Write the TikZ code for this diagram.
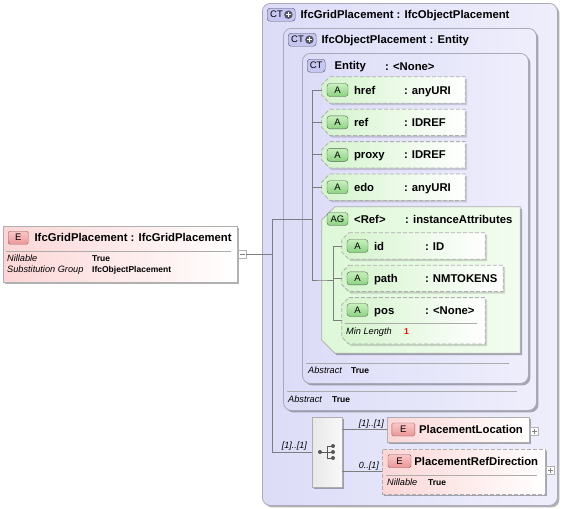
\documentclass[tikz,border=0pt]{standalone}
\usepackage{fontspec}
\setsansfont{Liberation Sans}
\usepackage{tikz}
\usetikzlibrary{positioning, shadows}
\usepackage{xcolor}

\definecolor{ctfill}{RGB}{220,220,248}
\definecolor{ctfillb}{RGB}{238,238,252}
\definecolor{ctline}{RGB}{170,170,185}
\definecolor{ctbadgefill}{RGB}{198,198,242}
\definecolor{badgeline}{RGB}{85,85,100}
\definecolor{attrfill}{RGB}{212,244,204}
\definecolor{agfill}{RGB}{222,248,216}
\definecolor{abadgetop}{RGB}{200,240,190}
\definecolor{abadgebot}{RGB}{140,210,130}
\definecolor{abadgeline}{RGB}{80,105,80}
\definecolor{elfill}{RGB}{252,214,214}
\definecolor{ebadgetop}{RGB}{250,200,200}
\definecolor{ebadgebot}{RGB}{236,150,150}
\definecolor{ebadgeline}{RGB}{150,90,90}
\definecolor{boxline}{RGB}{175,175,175}
\definecolor{treeline}{RGB}{125,125,125}

% outline of a box with its two left corners cut off
\newcommand{\notchbox}[2]{([xshift=#2]#1.north west) -- (#1.north east) -- (#1.south east)
  -- ([xshift=#2]#1.south west) -- ([yshift=#2]#1.south west) -- ([yshift=-#2]#1.north west) -- cycle}

\tikzset{
  dropsh/.style={drop shadow={shadow xshift=2pt, shadow yshift=-2pt, opacity=.3, fill=black}},
  ctbox/.style={draw=ctline, line width=.8pt, rounded corners=8pt, left color=ctfill,
    right color=ctfillb, inner sep=0pt, anchor=north west, dropsh},
  ctbadge/.style={draw=badgeline, rounded corners=3pt, fill=ctbadgefill, inner sep=0pt,
    minimum height=13pt, font=\sffamily\fontsize{9.5}{10}\selectfont},
  plusicon/.style={circle, fill=badgeline, minimum size=8.5pt, inner sep=0pt,
    path picture={\draw[white, line width=1.2pt]
      ([xshift=-2.5pt]path picture bounding box.center) -- ([xshift=2.5pt]path picture bounding box.center)
      ([yshift=-2.5pt]path picture bounding box.center) -- ([yshift=2.5pt]path picture bounding box.center);}},
  abadge/.style={draw=abadgeline, rounded corners=3pt, top color=abadgetop, bottom color=abadgebot,
    minimum width=21pt, minimum height=13pt, inner sep=0pt, font=\sffamily\fontsize{9.5}{10}\selectfont},
  ebadge/.style={draw=ebadgeline, rounded corners=1.5pt, top color=ebadgetop, bottom color=ebadgebot,
    minimum width=21pt, minimum height=13pt, inner sep=0pt, font=\sffamily\fontsize{9.5}{10}\selectfont},
  attr/.style={minimum width=143pt, minimum height=26pt, inner sep=0pt},
  attrshape/.style={draw=boxline, line width=.8pt, dash pattern=on 4pt off 2pt,
    left color=attrfill, right color=white,
    drop shadow={shadow xshift=2pt, shadow yshift=-2pt, opacity=.15, fill=black}},
  agshape/.style={draw=boxline, line width=.8pt, left color=agfill, right color=agfill!40!white, dropsh},
  elbox/.style={draw=boxline, line width=.8pt, left color=elfill, right color=white, inner sep=0pt, dropsh},
  seqbox/.style={draw=boxline, line width=.8pt, left color=gray!18, right color=gray!5, inner sep=0pt, dropsh},
  lbl/.style={font=\sffamily\bfseries\fontsize{11.3}{13}\selectfont, inner sep=0pt, anchor=west,
    text height=8pt, text depth=0pt},
  prop/.style={font=\sffamily\itshape\fontsize{9.2}{10}\selectfont, inner sep=0pt, anchor=west,
    text height=6.5pt, text depth=0pt},
  propval/.style={font=\sffamily\bfseries\fontsize{8.5}{10}\selectfont, inner sep=0pt, anchor=west,
    text height=6.5pt, text depth=0pt},
  card/.style={font=\sffamily\itshape\fontsize{9}{10}\selectfont, inner sep=0pt, anchor=east,
    text height=6.5pt, text depth=0pt},
  sepline/.style={draw=gray!65, line width=.7pt},
  tree/.style={draw=treeline, line width=.7pt},
  pmbox/.style={draw=gray!60, fill=white, minimum size=8pt, inner sep=0pt},
  pmminus/.style={pmbox, path picture={\draw[gray, line width=.6pt]
      ([xshift=-2.5pt]path picture bounding box.center) -- ([xshift=2.5pt]path picture bounding box.center);}},
  pmplus/.style={pmbox, path picture={\draw[gray, line width=.6pt]
      ([xshift=-2.5pt]path picture bounding box.center) -- ([xshift=2.5pt]path picture bounding box.center)
      ([yshift=-2.5pt]path picture bounding box.center) -- ([yshift=2.5pt]path picture bounding box.center);}}
}

\begin{document}
\begin{tikzpicture}[x=1pt, y=-1pt, font=\sffamily]
    \useasboundingbox (0,0) rectangle (563,509);

    % the element
    \node[elbox,
          minimum width=234pt,
          minimum height=56pt,
          anchor=north west
          ] (elem) at (3,226) {};
    \node[ebadge,
          minimum width=20pt,
          below right=5pt and 5pt of elem.north west
          ] (elemE) {E};
    \node[lbl, right=6pt of elemE] (elemname) {IfcGridPlacement : IfcGridPlacement};
    \draw[sepline] (6,251) -- (231,251);
    \node[prop] (elnil) at (7,258) {Nillable};
    \node[propval] (elnilval) at (92,258) {True};
    \node[prop] (elsub) at (7,269) {Substitution Group};
    \node[propval] (elsubval) at (92,269) {IfcObjectPlacement};
    \node[pmminus] (elminus) at (242,254) {};

    % complex types
    \node[ctbox,
          minimum width=295pt,
          minimum height=502pt
          ] (gridct) at (262,3) {};
    \node[ctbadge,
          text width=22pt, inner xsep=3pt, align=left,
          below right=5pt and 5pt of gridct.north west
          ] (gridctbadge) {CT};
    \node[plusicon] (gridctplus) at ([xshift=-7pt]gridctbadge.east) {};
    \node[lbl, right=5pt of gridctbadge] (gridctname) {IfcGridPlacement : IfcObjectPlacement};

    \node[ctbox,
          minimum width=253pt,
          minimum height=382pt
          ] (objct) at (283,28) {};
    \node[ctbadge,
          text width=22pt, inner xsep=3pt, align=left,
          below right=5pt and 5pt of objct.north west
          ] (objctbadge) {CT};
    \node[plusicon] (objctplus) at ([xshift=-7pt]objctbadge.east) {};
    \node[lbl, right=5pt of objctbadge] (objctname) {IfcObjectPlacement : Entity};
    \draw[sepline] (287,391) -- (517,391);
    \node[prop] (objabs) at (288,399) {Abstract};
    \node[propval] (objabsval) at (332,399) {True};

    \node[ctbox,
          minimum width=226pt,
          minimum height=330pt
          ] (entct) at (302,53) {};
    \node[ctbadge,
          minimum width=18pt,
          below right=6pt and 5pt of entct.north west
          ] (entctbadge) {CT};
    \node[lbl, right=9pt of entctbadge] (entctname) {Entity};
    \node[lbl] (entcttype) at (385,66) {: <None>};
    \draw[sepline] (306,363) -- (509,363);
    \node[prop] (entabs) at (308,370) {Abstract};
    \node[propval] (entabsval) at (351,370) {True};

    % the attributes
    \node[attr] (href) at (393.5,90) {};
    \path[attrshape] \notchbox{href}{8pt};
    \node[abadge, right=5pt of href.west] (hrefA) {A};
    \node[lbl, right=32pt of href.west] (hrefname) {href};
    \node[lbl, right=82pt of href.west] (hreftype) {: anyURI};

    \node[attr, below=6pt of href] (ref) {};
    \path[attrshape] \notchbox{ref}{8pt};
    \node[abadge, right=5pt of ref.west] (refA) {A};
    \node[lbl, right=32pt of ref.west] (refname) {ref};
    \node[lbl, right=82pt of ref.west] (reftype) {: IDREF};

    \node[attr, below=6pt of ref] (proxy) {};
    \path[attrshape] \notchbox{proxy}{8pt};
    \node[abadge, right=5pt of proxy.west] (proxyA) {A};
    \node[lbl, right=32pt of proxy.west] (proxyname) {proxy};
    \node[lbl, right=82pt of proxy.west] (proxytype) {: IDREF};

    \node[attr, below=6pt of proxy] (edo) {};
    \path[attrshape] \notchbox{edo}{8pt};
    \node[abadge, right=5pt of edo.west] (edoA) {A};
    \node[lbl, right=32pt of edo.west] (edoname) {edo};
    \node[lbl, right=82pt of edo.west] (edotype) {: anyURI};

    % the attribute group
    \node[attr, minimum width=198pt, minimum height=146pt] (ag) at (421,280) {};
    \path[agshape] \notchbox{ag}{13pt};
    \node[abadge] (agbadge) at (337.5,219) {AG};
    \node[lbl] (agname) at (354,219) {<Ref>};
    \node[lbl] (agtype) at (405,219) {: instanceAttributes};

    \node[attr] (id) at (413.5,246) {};
    \path[attrshape] \notchbox{id}{7pt};
    \node[abadge, right=5pt of id.west] (idA) {A};
    \node[lbl, right=32pt of id.west] (idname) {id};
    \node[lbl, right=83pt of id.west] (idtype) {: ID};

    \node[attr, minimum width=161pt, below=6pt of id, xshift=9pt] (path) {};
    \path[attrshape] \notchbox{path}{7pt};
    \node[abadge, right=5pt of path.west] (pathA) {A};
    \node[lbl, right=32pt of path.west] (pathname) {path};
    \node[lbl, right=83pt of path.west] (pathtype) {: NMTOKENS};

    \node[attr, minimum height=46pt, below=6pt of path, xshift=-9pt] (pos) {};
    \path[attrshape] \notchbox{pos}{7pt};
    \node[abadge] (posA) at (357.5,310) {A};
    \node[lbl] (posname) at (374,310) {pos};
    \node[lbl] (postype) at (425,310) {: <None>};
    \draw[sepline] (345,323) -- (477,323);
    \node[prop] (posmin) at (346,331) {Min Length};
    \node[propval, text=red] (posminval) at (404,331) {1};

    % the sequence
    \node[seqbox,
          minimum width=30pt,
          minimum height=70pt
          ] (seq) at (327,452) {};
    \begin{scope}[shift={(seq.center)}, treeline!70!black]
        \draw[line width=.8pt] (-7,0) -- (0,0) (0,-6) -- (0,6) (0,-6) -- (6,-6) (0,0) -- (6,0) (0,6) -- (6,6);
        \fill (-7,0) circle (2pt) (6,-6) circle (2pt) (6,0) circle (2pt) (6,6) circle (2pt);
    \end{scope}

    \node[elbox,
          minimum width=142pt,
          minimum height=25pt
          ] (ploc) at (458,429.5) {};
    \node[ebadge, minimum width=23pt, right=5pt of ploc.west] (plocE) {E};
    \node[lbl, right=4pt of plocE] (plocname) {PlacementLocation};
    \node[pmplus] (plocplus) at (534,431) {};

    \node[elbox,
          dash pattern=on 4pt off 2pt,
          minimum width=163pt,
          minimum height=45pt
          ] (pref) at (463.5,471.5) {};
    \node[ebadge, minimum width=23pt] (prefE) at (399.5,461) {E};
    \node[lbl, right=3pt of prefE] (prefname) {PlacementRefDirection};
    \draw[sepline] (386,475) -- (537,475);
    \node[prop] (prefnil) at (387,482) {Nillable};
    \node[propval] (prefnilval) at (428,482) {True};
    \node[pmplus] (prefplus) at (550,470) {};

    \node[card] (cardseq) at (307,445) {[1]..[1]};
    \node[card] (cardloc) at (384,423) {[1]..[1]};
    \node[card] (cardref) at (379,465) {0..[1]};

    % the connectors
    \coordinate (trunk) at (272,219);
    \coordinate (atrunk) at (312,90);
    \coordinate (itrunk) at (333,246);
    \draw[tree] (elminus.east) -- (elminus.east -| trunk);
    \draw[tree] (trunk) |- (seq.west);
    \draw[tree] (trunk) -- (trunk -| atrunk);
    \draw[tree] (atrunk) |- (ag.west) -- (ag.west -| itrunk);
    \draw[tree] (atrunk) -- (href.west);
    \draw[tree] (ref.west -| atrunk) -- (ref.west);
    \draw[tree] (proxy.west -| atrunk) -- (proxy.west);
    \draw[tree] (edo.west -| atrunk) -- (edo.west);
    \draw[tree] (itrunk) -- (id.west);
    \draw[tree] (itrunk) |- (pos.west);
    \draw[tree] (path.west -| itrunk) -- (path.west);
    \draw[tree] (seq.east |- ploc.west) -- (ploc.west);
    \draw[tree] (seq.east |- pref.west) -- (pref.west);
\end{tikzpicture}
\end{document}
